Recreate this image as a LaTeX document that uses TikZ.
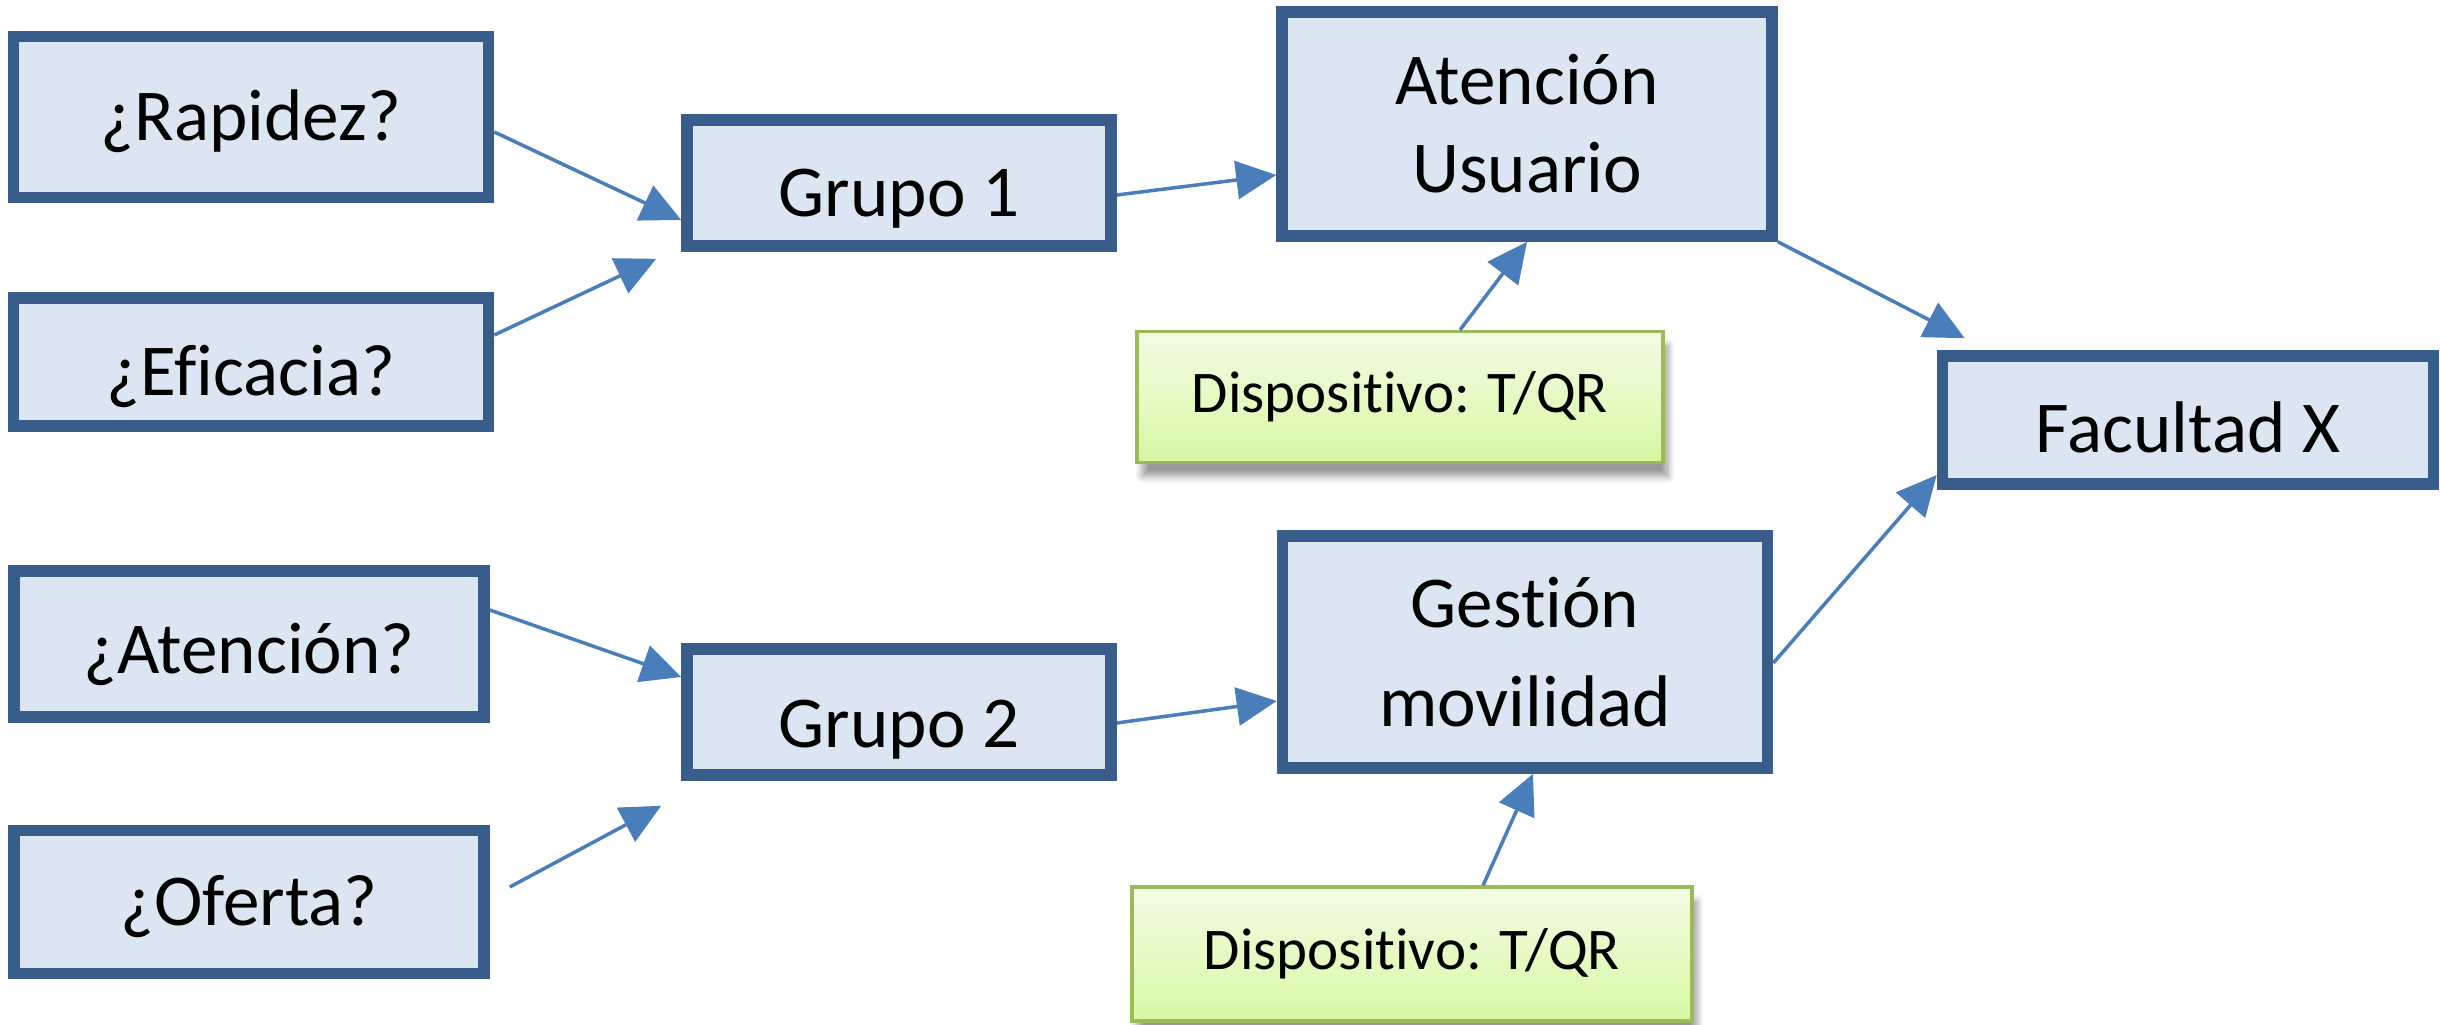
\documentclass[tikz,border=0pt]{standalone}
\usepackage{fontspec}
\setmainfont{Carlito}[Ligatures=NoCommon]
\usepackage{xcolor}
\usetikzlibrary{positioning, arrows.meta, shadows.blur}
\definecolor{cajaborde}{RGB}{56,93,138}
\definecolor{cajafondo}{RGB}{220,230,242}
\definecolor{flechaazul}{RGB}{74,126,187}
\definecolor{dispborde}{RGB}{155,187,89}
\definecolor{dispalto}{RGB}{243,252,230}
\definecolor{dispbajo}{RGB}{216,248,162}

\begin{document}
\begin{tikzpicture}[
  caja/.style={draw=cajaborde, fill=cajafondo, line width=3.3pt, minimum width=4.75cm, inner ysep=2pt,
    font=\fontsize{20.8}{25}\selectfont, text height=15.4pt, text depth=2pt},
  cajados/.style={draw=cajaborde, fill=cajafondo, line width=3.3pt, align=center},
  disp/.style={draw=dispborde, line width=0.9pt, top color=dispalto, bottom color=dispbajo,
    blur shadow={shadow xshift=0.5mm, shadow yshift=-1.4mm, shadow blur steps=10, shadow opacity=40},
    font=\fontsize{16.8}{20}\selectfont},
  flecha/.style={draw=flechaazul, line width=1pt, -{Triangle[length=0.4cm, width=0.38cm]}}
]
  \useasboundingbox (0,0) rectangle (24.4,10.24);

  % preguntas
  \node[caja, minimum height=1.61cm] (rapidez) at (2.51,9.07) {¿Rapidez?};
  \node[caja, minimum height=1.28cm, text height=21.1pt] (eficacia) at (2.51,6.62) {¿Eficacia?};
  \node[caja, minimum height=1.46cm, minimum width=4.70cm, text height=18.8pt] (atencion) at (2.49,3.80) {¿Atención?};
  \node[caja, minimum height=1.43cm, minimum width=4.70cm] (oferta) at (2.49,1.22) {¿Oferta?};

  % grupos
  \node[caja, minimum width=4.24cm, minimum height=1.26cm, text height=21.1pt] (grupo1) at (8.99,8.41) {Grupo 1};
  \node[caja, minimum width=4.24cm, minimum height=1.26cm, text height=22.2pt] (grupo2) at (8.99,3.12) {Grupo 2};

  % servicios y facultad
  \node[cajados, minimum width=4.90cm, minimum height=2.24cm, font=\fontsize{20.8}{25}\selectfont] (usuario) at (15.27,9.00) {Atención\\Usuario};
  \node[cajados, minimum width=4.85cm, minimum height=2.32cm, font=\fontsize{20.8}{28}\selectfont] (gestion) at (15.25,3.72) {Gestión\\movilidad};
  \node[caja, minimum width=4.91cm, minimum height=1.28cm, text height=20.5pt] (facultad) at (21.88,6.04) {Facultad X};

  % dispositivos
  \node[disp, minimum width=5.26cm, minimum height=1.31cm] (disp1) at (14.00,6.27) {Dispositivo: T/QR};
  \node[disp, minimum width=5.6cm, minimum height=1.34cm] (disp2) at (14.12,0.70) {Dispositivo: T/QR};

  % flechas
  \draw[flecha] ([yshift=-0.15cm]rapidez.east) -- ([yshift=-0.37cm]grupo1.west);
  \draw[flecha] ([yshift=0.27cm]eficacia.east) -- ([xshift=-0.25cm,yshift=-0.07cm]grupo1.south west);
  \draw[flecha] ([yshift=0.34cm]atencion.east) -- ([yshift=0.35cm]grupo2.west);
  \draw[flecha] ([xshift=0.2cm,yshift=0.15cm]oferta.east) -- ([xshift=-0.2cm,yshift=-0.25cm]grupo2.south west);
  \draw[flecha] ([yshift=-0.12cm]grupo1.east) -- ([yshift=-0.51cm]usuario.west);
  \draw[flecha] ([yshift=-0.11cm]grupo2.east) -- ([yshift=-0.49cm]gestion.west);
  \draw[flecha] ([xshift=0.6cm]disp1.north) -- (usuario.south);
  \draw[flecha] ([xshift=0.71cm]disp2.north) -- ([xshift=0.08cm]gestion.south);
  \draw[flecha] (usuario.south east) -- ([xshift=0.28cm,yshift=0.12cm]facultad.north west);
  \draw[flecha] ([yshift=-0.11cm]gestion.east) -- ([yshift=-0.55cm]facultad.west);
\end{tikzpicture}
\end{document}
